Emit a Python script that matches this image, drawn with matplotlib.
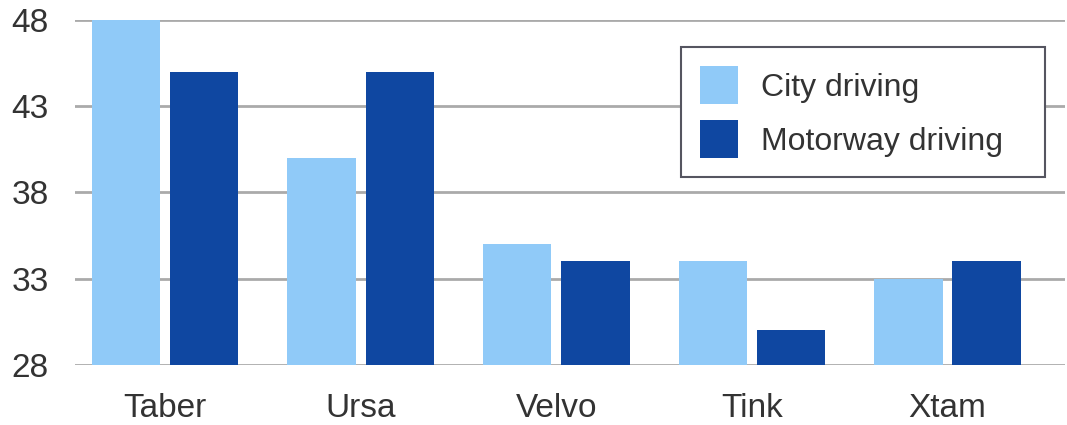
import numpy as np
import matplotlib.pyplot as plt

plt.rcParams["font.family"] = ["Liberation Sans", "DejaVu Sans"]

# data
cars = ["Taber", "Ursa", "Velvo", "Tink", "Xtam"]
city = [48, 40, 35, 34, 33]
motorway = [45, 45, 34, 30, 34]
yticks = [28, 33, 38, 43, 48]

light = "#90caf8"
dark = "#0f47a1"
text_col = "#333333"

fig = plt.figure(figsize=(10.67, 4.25), dpi=100)
ax = fig.add_axes([0.0703, 0.1412, 0.9278, 0.8118])

x = np.arange(len(cars))
w = 0.35
ax.bar(x - 0.20, city, width=w, color=light, label="City driving", zorder=2)
ax.bar(x + 0.20, motorway, width=w, color=dark, label="Motorway driving", zorder=2)

ax.set_ylim(28, 48)
ax.set_xlim(-0.46, 4.6)
ax.set_yticks(yticks)
ax.set_xticks(x)
ax.set_xticklabels(cars)
ax.grid(axis="y", color="#aaaaaa", linewidth=2, zorder=1)
for s in ax.spines.values():
    s.set_visible(False)
ax.tick_params(axis="both", length=0, labelsize=24, colors=text_col)
ax.tick_params(axis="y", pad=19)
ax.tick_params(axis="x", pad=20)

# legend box: px 680..1045 wide, top at 47
leg = fig.legend(
    loc="upper left",
    bbox_to_anchor=(681 / 1067, 1 - 177 / 425, 364 / 1067, 130 / 425),
    mode="expand",
    fontsize=23,
    handlelength=1.19,
    handleheight=1.455,
    labelspacing=0.5,
    handletextpad=0.72,
    borderpad=0.6,
    borderaxespad=0,
    fancybox=False,
    framealpha=1,
    edgecolor="#555560",
)
leg.get_frame().set_linewidth(1.5)
for t in leg.get_texts():
    t.set_color(text_col)

plt.savefig("out.png", dpi=100)
